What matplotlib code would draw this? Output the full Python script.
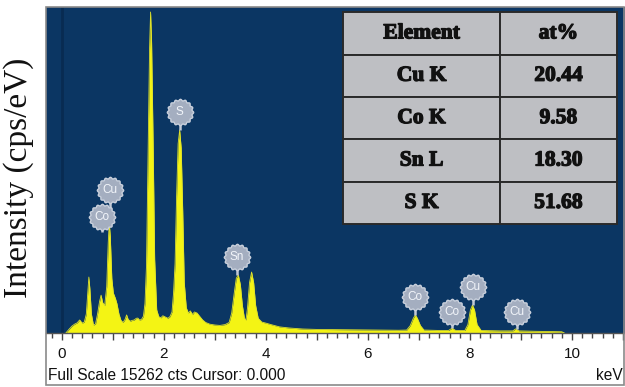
import matplotlib
matplotlib.use("Agg")
import matplotlib.pyplot as plt
import matplotlib.patheffects as pe
import numpy as np
from matplotlib.patches import Rectangle
from matplotlib.path import Path
from matplotlib.ticker import MultipleLocator, FuncFormatter

# EDS spectrum, counts per channel read along the energy axis (keV)
energy = [
    0.08, 0.10, 0.15, 0.20, 0.25, 0.30, 0.35, 0.40, 0.44, 0.48, 0.51, 0.53, 0.55, 0.58,
    0.62, 0.66, 0.70, 0.74, 0.77, 0.80, 0.84, 0.88, 0.91, 0.93, 0.95, 0.98, 1.01, 1.05,
    1.08, 1.12, 1.16, 1.20, 1.24, 1.27, 1.30, 1.34, 1.38, 1.42, 1.46, 1.49, 1.52, 1.56,
    1.60, 1.63, 1.66, 1.69, 1.72, 1.74, 1.76, 1.79, 1.82, 1.86, 1.90, 1.94, 1.98, 2.03,
    2.08, 2.12, 2.16, 2.19, 2.22, 2.25, 2.28, 2.31, 2.34, 2.37, 2.40, 2.44, 2.48, 2.52,
    2.56, 2.60, 2.65, 2.70, 2.76, 2.82, 2.90, 3.00, 3.10, 3.20, 3.28, 3.33, 3.38, 3.42,
    3.46, 3.50, 3.54, 3.58, 3.61, 3.64, 3.68, 3.72, 3.76, 3.80, 3.85, 3.92, 4.00, 4.10,
    4.27, 4.45, 4.72, 5.00, 5.40, 5.80, 6.20, 6.60, 6.76, 6.83, 6.89, 6.93, 6.97, 7.03,
    7.10, 7.40, 7.58, 7.65, 7.72, 7.90, 7.96, 8.01, 8.05, 8.09, 8.14, 8.22, 8.60, 8.84,
    8.90, 8.96, 9.30, 9.80, 9.85,
]
counts = [
    0, 60, 200, 330, 420, 480, 620, 470, 520, 900, 2000, 2660, 2100, 900,
    380, 420, 900, 1500, 1800, 1450, 1300, 2200, 4300, 5230, 4600, 2600, 1900, 1650,
    1400, 900, 600, 500, 650, 860, 650, 560, 600, 620, 700, 710, 620, 640,
    800, 1400, 3200, 8500, 13500, 15262, 13800, 9000, 3500, 1100, 780, 720, 820, 760,
    700, 780, 1000, 1900, 3300, 6500, 9000, 9650, 8800, 5800, 2400, 1200, 950, 1050,
    880, 1000, 950, 800, 620, 500, 420, 380, 360, 400, 500, 950, 1900, 2600,
    2760, 2300, 1300, 700, 620, 1200, 2400, 2900, 2400, 1300, 700, 520, 470, 400,
    290, 240, 190, 170, 160, 150, 140, 130, 140, 350, 700, 860, 700, 350,
    140, 120, 120, 230, 120, 120, 400, 1100, 1330, 1100, 400, 120, 100, 100,
    200, 100, 80, 60, 0,
]

# peak markers: symbol, energy of badge, badge height, end of stem
badge_labels = ["S", "Cu", "Co", "Sn", "Co", "Co", "Cu", "Cu"]
badge_energy = [2.31, 0.94, 0.78, 3.43, 6.92, 7.65, 8.06, 8.92]
badge_counts = [10500, 6800, 5500, 3610, 1710, 1000, 2190, 1000]
stem_counts = [9650, 5230, 4800, 2760, 860, 230, 1330, 200]

# composition table
elements = ["Cu K", "Co K", "Sn L", "S K"]
at_percent = ["20.44", "9.58", "18.30", "51.68"]

full_scale = 15262

fig = plt.figure(figsize=(6.25, 3.87), dpi=100)
ax = fig.add_axes([46 / 625, 54 / 387, 579 / 625, 326 / 387])
ax.set_facecolor("#0b3663")

ax.axvline(0, color="#082b52", lw=2, zorder=1)
ax.fill_between(energy, counts, 0, color="#f4f414", lw=0, zorder=2)
ax.plot(energy, counts, color="#e0e22a", lw=0.6, zorder=3)

# scalloped badge shape
t = np.linspace(0, 2 * np.pi, 161)
r = 1 + 0.06 * np.cos(16 * t)
badge = Path(np.column_stack([r * np.cos(t), r * np.sin(t)]), closed=True)

for lab, e, c, s in zip(badge_labels, badge_energy, badge_counts, stem_counts):
    ax.plot([e, e], [s, c], color="#c3cad6", lw=1.8, zorder=4, solid_capstyle="butt")
for lab, e, c in zip(badge_labels, badge_energy, badge_counts):
    ax.plot(e, c, marker=badge, ms=19, mfc="#a4aec0", mec="#c9d0dc", mew=1.0, zorder=5)
    ax.text(e, c, lab, ha="center", va="center", color="#f2f5fa", fontsize=8.5,
            family="Liberation Sans", zorder=6)

ax.set_xlim(-0.31, 11.04)
ax.set_ylim(0, 15500)
ax.set_yticks([])
for side in ("top", "right", "left"):
    ax.spines[side].set_visible(False)
ax.spines["bottom"].set_color("#555555")
ax.spines["bottom"].set_linewidth(1.0)

ax.xaxis.set_major_locator(MultipleLocator(1))
ax.xaxis.set_minor_locator(MultipleLocator(0.2))
ax.xaxis.set_major_formatter(FuncFormatter(lambda v, p: f"{v:.0f}" if round(v) % 2 == 0 else ""))
ax.tick_params(axis="x", which="major", length=5, width=1, color="#444444", pad=5,
               labelsize=11, labelcolor="#111111")
ax.tick_params(axis="x", which="minor", length=3.5, width=1, color="#444444")
for lbl in ax.get_xticklabels():
    lbl.set_family("Liberation Sans")

# element table
cell_text = [["Element", "at%"]] + [[el, v] for el, v in zip(elements, at_percent)]
tbl = ax.table(cellText=cell_text, cellLoc="center", colWidths=[0.573, 0.427],
               bbox=[0.513, 0.334, 0.473, 0.650], zorder=7)
tbl.auto_set_font_size(False)
for (row, col), cell in tbl.get_celld().items():
    cell.set_facecolor("#bebfc3")
    cell.set_edgecolor("#2a2a2a")
    cell.set_linewidth(1.4)
    txt = cell.get_text()
    txt.set_family("Liberation Serif")
    txt.set_fontweight("bold")
    txt.set_fontsize(15.5)
    txt.set_color("#111111")
    txt.set_path_effects([pe.withStroke(linewidth=0.9, foreground="#111111")])

# screen frame around spectrum and footer
fig.patches.append(Rectangle((46 / 625, 2 / 387), 578 / 625, 378 / 387, transform=fig.transFigure,
                             fill=False, edgecolor="#8a8a8a", lw=1.2))

fig.text(48 / 625, 1 - 376 / 387, f"Full Scale {full_scale} cts Cursor: 0.000", va="center",
         ha="left", fontsize=11.2, family="Liberation Sans", color="#111111")
fig.text(623 / 625, 1 - 376 / 387, "keV", va="center", ha="right",
         fontsize=11.2, family="Liberation Sans", color="#111111")
fig.text(19 / 625, 1 - 178 / 387, "Intensity (cps/eV)", rotation=90, va="center", ha="center",
         fontsize=24, family="Liberation Serif", color="#111111")

fig.savefig("out.png", dpi=100)
